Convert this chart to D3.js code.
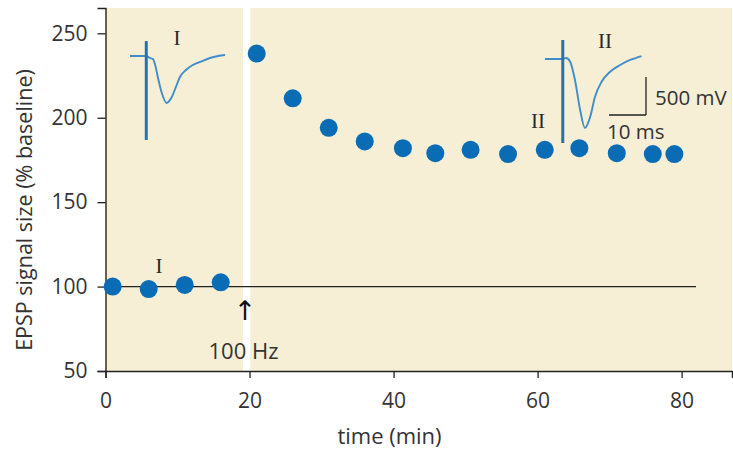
<!DOCTYPE html>
<html>
<head>
<meta charset="utf-8">
<script src="https://cdn.jsdelivr.net/npm/d3@7"></script>
<style>
  body { margin: 0; background: #fff; }
  svg text { font-family: "Open Sans", "Noto Sans", sans-serif; fill: #333; }
  .roman { font-family: "Liberation Serif", "DejaVu Serif", serif !important; fill: #2a2a2a; }
</style>
</head>
<body>
<svg width="733" height="452"></svg>
<script>
// main data: time (min) vs EPSP size (% baseline)
var times  = [1, 6, 11, 16, 21, 26, 31, 36, 41.3, 45.8, 50.7, 55.9, 61, 65.8, 71, 76, 79];
var values = [100, 98.5, 101, 102.5, 238, 211.5, 194, 186, 182, 179, 181, 178.5, 181, 182, 179, 178.5, 178.5];
var xTicks = [0, 20, 40, 60, 80];
var yTicks = [50, 100, 150, 200, 250];
var gapStart = 19.1, gapEnd = 20.1;   // white break at the tetanus
var baselineEnd = 82;

// inset traces: time (ms) vs potential (mV)
var traceITime = [0, 2.7, 4.3, 5.4, 6.2, 6.8, 7.7, 8.6, 9.9, 11.3, 12.4, 13.5, 15.1, 17, 19.5, 21.6, 23.8, 25.7];
var traceIVal  = [0, 0, 0, -26, -40, -118, -316, -487, -618, -540, -408, -276, -184, -118, -66, -26, 0, 13];
var traceIITime = [0, 3, 4.8, 5.7, 6.8, 8.1, 9.5, 10.8, 12.2, 13.5, 15.3, 17.6, 20.3, 23, 26.1];
var traceIIVal  = [0, 0, 0, 13, -36, -276, -671, -908, -763, -500, -299, -167, -79, -13, 39];
var stimI  = {t: 4.4, top: 197, bottom: -1105};
var stimII = {t: 4.8, top: 250, bottom: -1105};

var svg = d3.select("svg");
var x = d3.scaleLinear().domain([0, 87]).range([105.5, 732]);
var y = d3.scaleLinear().domain([50, 265]).range([371, 8]);

var BLUE = "#0a6cb4";
var TRACE = "#3f8dc9";
var FONT = '"Open Sans", "Noto Sans", sans-serif';

// background
svg.append("rect")
    .attr("x", x(0)).attr("y", y(265))
    .attr("width", x(87) - x(0)).attr("height", y(50) - y(265))
    .attr("fill", "#f6efd5");
svg.append("rect")
    .attr("x", x(gapStart)).attr("y", y(265))
    .attr("width", x(gapEnd) - x(gapStart)).attr("height", y(50) - y(265))
    .attr("fill", "#fff");

// baseline at 100%
svg.append("line")
    .attr("x1", x(0)).attr("x2", x(baselineEnd))
    .attr("y1", y(100)).attr("y2", y(100))
    .attr("stroke", "#222").attr("stroke-width", 1.2);

// axes
var xAxis = svg.append("g")
    .attr("transform", "translate(0," + y(50) + ")")
    .call(d3.axisBottom(x).tickValues(xTicks).tickSize(7).tickPadding(15));
var yAxis = svg.append("g")
    .attr("transform", "translate(" + x(0) + ",0)")
    .call(d3.axisLeft(y).tickValues(yTicks).tickSize(8).tickPadding(10));
[xAxis, yAxis].forEach(function(ax){
    ax.select(".domain").attr("stroke", "#222").attr("stroke-width", 1.4);
    ax.selectAll(".tick line").attr("stroke", "#222").attr("stroke-width", 1.3);
    ax.selectAll(".tick text").attr("font-size", 21).attr("fill", "#333")
      .style("font-family", FONT);
});

// points
svg.append("g").selectAll("circle")
    .data(times)
    .enter().append("circle")
    .attr("cx", function(d) { return x(d); })
    .attr("cy", function(d, i) { return y(values[i]); })
    .attr("r", 9)
    .attr("fill", BLUE);

// axis titles
svg.append("text")
    .attr("x", 389.5).attr("y", 444)
    .attr("text-anchor", "middle").attr("font-size", 22)
    .text("time (min)");
svg.append("text")
    .attr("transform", "translate(32,210) rotate(-90)")
    .attr("text-anchor", "middle").attr("font-size", 21.5)
    .text("EPSP signal size (% baseline)");

// tetanus marker
svg.append("text")
    .attr("x", 245).attr("y", 320)
    .attr("text-anchor", "middle").attr("font-size", 27)
    .style("font-family", '"DejaVu Sans", sans-serif')
    .style("fill", "#111")
    .text("\u2191");
svg.append("text")
    .attr("x", 243.5).attr("y", 359)
    .attr("text-anchor", "middle").attr("font-size", 22)
    .text("100 Hz");

// inset traces
var tx = d3.scaleLinear().domain([0, 10]).range([0, 37]);
var ty = d3.scaleLinear().domain([0, 500]).range([0, -38]);
var traceLine = d3.line()
    .x(function(d) { return tx(d[0]); })
    .y(function(d) { return ty(d[1]); })
    .curve(d3.curveMonotoneX);

function drawTrace(ox, oy, tt, vv, stim) {
    var g = svg.append("g").attr("transform", "translate(" + ox + "," + oy + ")");
    g.append("path")
        .attr("d", traceLine(d3.zip(tt, vv)))
        .attr("fill", "none").attr("stroke", TRACE).attr("stroke-width", 1.9)
        .attr("stroke-linejoin", "round");
    g.append("line")
        .attr("x1", tx(stim.t)).attr("x2", tx(stim.t))
        .attr("y1", ty(stim.top)).attr("y2", ty(stim.bottom))
        .attr("stroke", "#1f74b8").attr("stroke-width", 3);
    return g;
}
drawTrace(130, 56, traceITime, traceIVal, stimI);
drawTrace(545, 59, traceIITime, traceIIVal, stimII);

// scale bar
var sb = svg.append("g").attr("transform", "translate(646,115)");
sb.append("line").attr("x1", -tx(10)).attr("x2", 0).attr("y1", 0).attr("y2", 0)
    .attr("stroke", "#222").attr("stroke-width", 1.3);
sb.append("line").attr("x1", 0).attr("x2", 0).attr("y1", 0).attr("y2", ty(500))
    .attr("stroke", "#222").attr("stroke-width", 1.3);
sb.append("text").attr("x", 9).attr("y", -10).attr("font-size", 20.5).text("500 mV");
sb.append("text").attr("x", -39).attr("y", 24).attr("font-size", 20.5).text("10 ms");

// roman numerals
function roman(px, py, s) {
    svg.append("text").attr("class", "roman")
        .attr("x", px).attr("y", py).attr("text-anchor", "middle")
        .attr("font-size", 21).text(s);
}
roman(177, 45, "I");
roman(605, 48, "II");
roman(538, 128, "II");
roman(159, 273, "I");
</script>
</body>
</html>
